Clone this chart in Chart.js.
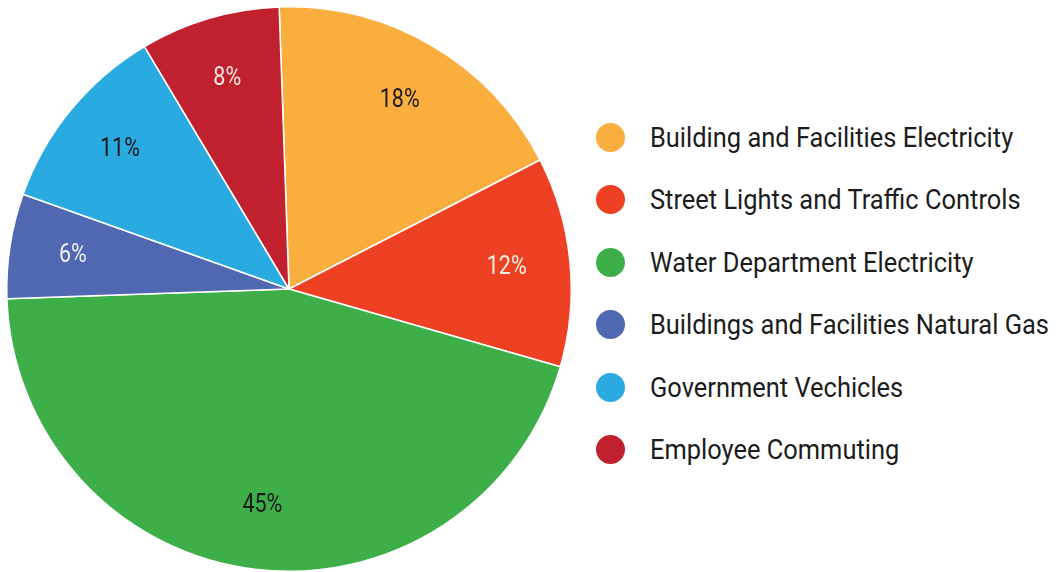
<!DOCTYPE html>
<html>
<head>
<meta charset="utf-8">
<script src="https://cdn.jsdelivr.net/npm/chart.js@4"></script>
<style>
  html, body { margin: 0; padding: 0; background: #fff; width: 1057px; height: 572px; overflow: hidden; }
  #pieBox { position: absolute; left: 0; top: 0; width: 578px; height: 578px; }
  #legend { position: absolute; left: 0; top: 0; margin: 0; padding: 0; list-style: none; }
  #legend li { position: absolute; left: 596px; height: 40px; display: flex; align-items: center; white-space: nowrap;
               font-family: "Roboto", sans-serif; font-size: 27.5px; color: #1c1c1c; }
  #legend .dot { width: 29px; height: 29px; border-radius: 50%; margin-right: 25px; flex: none; }
  #legend .name { display: inline-block; transform: scaleX(0.925); transform-origin: left center; }
</style>
</head>
<body>
<div id="pieBox"><canvas id="emissionsChart"></canvas></div>
<ul id="legend"></ul>
<script>
const categories = [
    "Building and Facilities Electricity",
    "Street Lights and Traffic Controls",
    "Water Department Electricity",
    "Buildings and Facilities Natural Gas",
    "Government Vechicles",
    "Employee Commuting"
];
const shares = [18, 12, 45, 6, 11, 8];
const sliceColors = ["#faae3d", "#ee4124", "#3eae49", "#5068b2", "#29abe2", "#c1202f"];
const labelColors = ["#1a1a1a", "#fbf0e4", "#1a1a1a", "#f3eef6", "#1a1a1a", "#f6e6dc"];

// percentage text inside each slice, squeezed a little horizontally
const sliceLabels = {
    id: "sliceLabels",
    afterDatasetsDraw(chart) {
        const ctx = chart.ctx;
        const meta = chart.getDatasetMeta(0);
        meta.data.forEach((arc, i) => {
            const p = arc.getProps(["x", "y", "startAngle", "endAngle", "outerRadius"], true);
            const mid = (p.startAngle + p.endAngle) / 2;
            const r = p.outerRadius * 0.775;
            ctx.save();
            ctx.translate(p.x + Math.cos(mid) * r, p.y + Math.sin(mid) * r);
            ctx.scale(0.86, 1);
            ctx.font = '25px "Roboto", sans-serif';
            ctx.textAlign = "center";
            ctx.textBaseline = "middle";
            ctx.fillStyle = labelColors[i];
            ctx.fillText(shares[i] + "%", 0, 0);
            ctx.restore();
        });
    }
};

new Chart(document.getElementById("emissionsChart"), {
    type: "pie",
    data: {
        labels: categories,
        datasets: [{
            data: shares,
            backgroundColor: sliceColors,
            borderColor: "#ffffff",
            borderWidth: 1.5,
            hoverOffset: 0
        }]
    },
    options: {
        responsive: true,
        maintainAspectRatio: false,
        animation: false,
        rotation: -2,
        layout: { padding: 6 },
        plugins: {
            legend: { display: false },
            tooltip: { enabled: false }
        }
    },
    plugins: [sliceLabels]
});

const legendList = document.getElementById("legend");
categories.forEach((name, i) => {
    const li = document.createElement("li");
    li.style.top = (117 + i * 62.5) + "px";
    li.innerHTML = `<span class="dot" style="background:${sliceColors[i]}"></span><span class="name">${name}</span>`;
    legendList.appendChild(li);
});
</script>
</body>
</html>
